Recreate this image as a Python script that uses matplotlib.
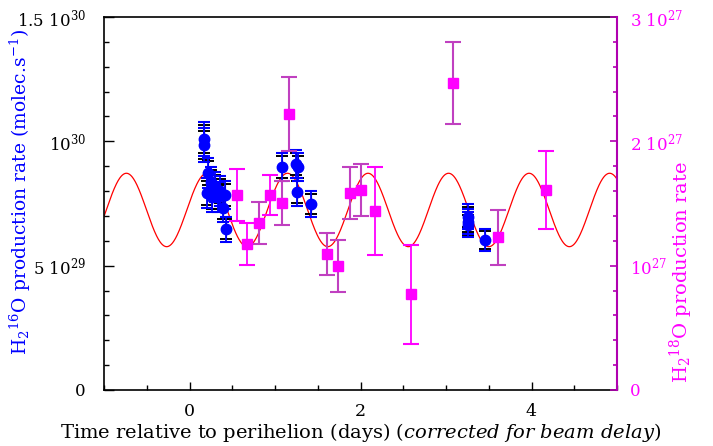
import matplotlib
matplotlib.use('Agg')
import matplotlib.pyplot as plt
import numpy as np
from matplotlib.ticker import FixedLocator, FixedFormatter, MultipleLocator

plt.rcParams['font.family'] = ['DejaVu Serif']
plt.rcParams['mathtext.fontset'] = 'dejavuserif'

# ---------------- data ----------------
# H2 16O production rate (left axis, molec/s)
t16 = [0.17, 0.17, 0.22, 0.21, 0.26, 0.30, 0.33, 0.39, 0.42, 0.43, 0.25, 0.36,
       1.085, 1.246, 1.273, 1.257, 1.421, 3.257, 3.257, 3.257, 3.456]
q16 = [10.11e29, 9.85e29, 8.73e29, 7.92e29, 7.76e29, 8.16e29, 7.76e29, 7.32e29,
       7.84e29, 6.47e29, 8.35e29, 8.00e29,
       8.96e29, 9.09e29, 8.97e29, 7.96e29, 7.48e29, 6.96e29, 6.76e29, 6.64e29, 6.03e29]
e16_tot = [0.68e29, 0.68e29, 0.60e29, 0.60e29, 0.60e29, 0.60e29, 0.60e29, 0.55e29,
           0.55e29, 0.50e29, 0.60e29, 0.60e29,
           0.56e29, 0.56e29, 0.56e29, 0.56e29, 0.52e29, 0.50e29, 0.50e29, 0.50e29, 0.44e29]
e16_stat = [0.56e29, 0.56e29, 0.48e29, 0.48e29, 0.48e29, 0.48e29, 0.48e29, 0.44e29,
            0.44e29, 0.40e29, 0.48e29, 0.48e29,
            0.44e29, 0.44e29, 0.44e29, 0.44e29, 0.42e29, 0.40e29, 0.40e29, 0.40e29, 0.36e29]

# H2 18O production rate (right axis) - set A
t18a = [0.559, 0.676, 0.942, 2.170, 2.587, 4.166]
q18a = [1.568e27, 1.174e27, 1.568e27, 1.44e27, 0.770e27, 1.609e27]
e18a = [0.209e27, 0.169e27, 0.161e27, 0.354e27, 0.398e27, 0.314e27]

# H2 18O production rate (right axis) - set B
t18b = [0.813, 1.078, 1.167, 1.612, 1.741, 1.877, 2.006, 3.078, 3.605]
q18b = [1.341e27, 1.502e27, 2.22e27, 1.094e27, 1.0e27, 1.582e27, 1.609e27, 2.472e27, 1.228e27]
e18b = [0.169e27, 0.177e27, 0.298e27, 0.169e27, 0.209e27, 0.209e27, 0.209e27, 0.330e27, 0.221e27]

# sinusoidal model (left axis units)
model_mean = 7.24e29
model_amp = 1.476e29
model_period = 0.942
model_tpeak = -0.738

# tick labels
left_ticks = [0, 5e29, 1e30, 1.5e30]
left_labels = ['0', r'5 10$^{29}$', r'10$^{30}$', r'1.5 10$^{30}$']
right_ticks = [0, 1e27, 2e27, 3e27]
right_labels = ['0', r'10$^{27}$', r'2 10$^{27}$', r'3 10$^{27}$']
x_ticks = [0, 2, 4]

# ---------------- plot ----------------
fig = plt.figure(figsize=(7.13, 4.46), dpi=100)
ax = fig.add_axes([104/713, 1-390/446, (617-104)/713, (390-17)/446])
ax2 = ax.twinx()

MAG = '#ff00ff'
PURP = '#c040c0'
AXP = '#b000b0'

tt = np.linspace(-1, 5, 1200)
ax.plot(tt, model_mean + model_amp*np.cos(2*np.pi*(tt - model_tpeak)/model_period),
        color='red', lw=0.9, zorder=1)

ax.errorbar(t16, q16, yerr=e16_stat, fmt='none', ecolor='black', elinewidth=0.8,
            capsize=4, capthick=1.4, zorder=1.8)
ax.errorbar(t16, q16, yerr=e16_tot, fmt='none', ecolor='blue', elinewidth=1.3,
            capsize=4.5, capthick=1.5, zorder=2)
ax.plot(t16, q16, 'o', color='blue', ms=7.5, mec='blue', zorder=3)

ax2.errorbar(t18a, q18a, yerr=e18a, fmt='s', color=MAG, ecolor=MAG, ms=7,
             elinewidth=1.3, capsize=5.5, capthick=1.5, zorder=3)
ax2.errorbar(t18b, q18b, yerr=e18b, fmt='s', color=MAG, ecolor=PURP, ms=7,
             elinewidth=1.5, capsize=5.5, capthick=1.5, zorder=3)

ax.set_xlim(-1, 5)
ax.set_ylim(0, 1.5e30)
ax2.set_ylim(0, 3e27)

ax.xaxis.set_major_locator(FixedLocator(x_ticks))
ax.xaxis.set_minor_locator(MultipleLocator(0.5))
ax.yaxis.set_major_locator(FixedLocator(left_ticks))
ax.yaxis.set_major_formatter(FixedFormatter(left_labels))
ax.yaxis.set_minor_locator(MultipleLocator(1e29))
ax2.yaxis.set_major_locator(FixedLocator(right_ticks))
ax2.yaxis.set_major_formatter(FixedFormatter(right_labels))
ax2.yaxis.set_minor_locator(MultipleLocator(2e26))

ax.tick_params(axis='x', which='major', direction='in', length=6, width=1,
               labelsize=12.5, top=False, pad=9)
ax.tick_params(axis='x', which='minor', direction='in', length=3.5, width=1, top=False)
ax.tick_params(axis='y', which='major', direction='in', length=7, width=1,
               labelsize=12, right=False, pad=13)
ax.tick_params(axis='y', which='minor', direction='in', length=3.5, width=1, right=False)
ax2.tick_params(axis='y', which='major', direction='in', length=5, width=1.2,
                labelsize=12, colors=MAG, pad=9)
ax2.tick_params(axis='y', which='minor', direction='in', length=3, width=1.2, color=AXP)
ax2.tick_params(axis='y', which='major', color=AXP)

for s in ['left', 'bottom', 'top']:
    ax.spines[s].set_linewidth(1.2)
    ax.spines[s].set_color('black')
ax2.spines['right'].set_color(AXP)
ax2.spines['right'].set_linewidth(1.5)
ax.spines['right'].set_visible(False)
for s in ['left', 'bottom', 'top']:
    ax2.spines[s].set_visible(False)

ax.set_ylabel(r'H$_2$$^{16}$O production rate (molec.s$^{-1}$)', color='blue',
              fontsize=13.5)
ax.yaxis.set_label_coords(-0.138, 0.53)
ax2.set_ylabel(r'H$_2$$^{18}$O production rate', color=MAG, fontsize=14)
ax2.yaxis.set_label_coords(1.099, 0.316)
ax.set_xlabel(r'Time relative to perihelion (days) $\mathit{(corrected\ for\ beam\ delay)}$',
              fontsize=14, labelpad=1)

fig.savefig('out.png', dpi=100)
